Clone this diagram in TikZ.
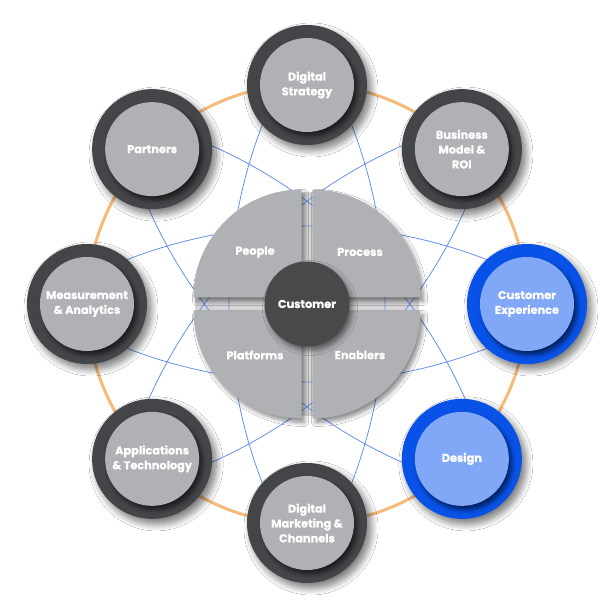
\documentclass[tikz,border=0pt]{standalone}
\usepackage{fontspec}
\setmainfont{Poppins}[BoldFeatures={FakeBold=0.6}]
\usetikzlibrary{shadows.blur}
\definecolor{ringdark}{RGB}{68,69,72}
\definecolor{nodegray}{RGB}{176,177,181}
\definecolor{bluering}{RGB}{8,82,232}
\definecolor{blueinner}{RGB}{128,168,246}
\definecolor{ringorange}{RGB}{246,186,122}
\definecolor{disclight}{RGB}{214,214,216}
\definecolor{centerdark}{RGB}{73,73,76}
\definecolor{arcblue}{RGB}{95,140,235}
\begin{document}
\begin{tikzpicture}[x=1pt,y=1pt,
  lbl/.style={text=white, font=\bfseries\fontsize{11.3}{14.8}\selectfont, align=center, inner sep=0pt},
  ringnode/.style={circle, minimum size=120pt, inner sep=0pt, fill=ringdark,
    blur shadow={shadow xshift=4pt, shadow yshift=-5pt, shadow blur radius=7pt, shadow blur steps=12, shadow opacity=55}},
  corenode/.style={circle, minimum size=94pt, inner sep=0pt, fill=nodegray,
    blur shadow={shadow xshift=3pt, shadow yshift=-4pt, shadow blur radius=4pt, shadow blur steps=8, shadow opacity=60}, lbl},
  bluenode/.style={ringnode, fill=bluering},
  bluecore/.style={corenode, fill=blueinner},
  quadfill/.style={fill=nodegray, blur shadow={shadow xshift=3pt, shadow yshift=-4pt, shadow blur radius=4pt, shadow blur steps=8, shadow opacity=45}},
  blueline/.style={draw=arcblue, line width=0.75pt}
]
\useasboundingbox (-307,-308) rectangle (305,304);
\fill[white] (-307,-308) rectangle (305,304);
% orange ring
\draw[ringorange, line width=3pt] (0,0) circle[radius=220pt];
% light disc under the quadrants
\fill[disclight] (0,0) circle[radius=112pt];
% blue arcs
\foreach \p in {0,45,...,315}{
  \draw[blueline] (\p+180:420) ++(\p-26.2:498) arc[start angle=\p-26.2, delta angle=52.4, radius=498pt];
}
% quadrants
\fill[quadfill] (-5.5,6.5) -- (-113.5,6.5) arc[start angle=180, end angle=90, radius=108pt] -- cycle;
\fill[quadfill] (5.5,6.5) -- (113.5,6.5) arc[start angle=0, end angle=90, radius=108pt] -- cycle;
\fill[quadfill] (-5.5,-6.5) -- (-113.5,-6.5) arc[start angle=180, end angle=270, radius=108pt] -- cycle;
\fill[quadfill] (5.5,-6.5) -- (113.5,-6.5) arc[start angle=0, end angle=-90, radius=108pt] -- cycle;
\node[lbl] (people) at (-52,52) {People};
\node[lbl] (process) at (53,52) {Process};
\node[lbl] (platforms) at (-52,-51) {Platforms};
\node[lbl] (enablers) at (53,-51) {Enablers};
% center
\node[circle, minimum size=85pt, inner sep=0pt, fill=centerdark,
  blur shadow={shadow xshift=3pt, shadow yshift=-4pt, shadow blur radius=5pt, shadow opacity=50}, lbl] (cust) at (0,0) {Customer};
% outer nodes
\node[ringnode] (ds-ring) at (90:219) {};
\node[corenode] (ds) at (ds-ring) {Digital\\Strategy};
\node[ringnode] (bm-ring) at (45:219) {};
\node[corenode] (bm) at (bm-ring) {Business\\Model \&\\ROI};
\node[bluenode] (cx-ring) at (0:220) {};
\node[bluecore] (cx) at (cx-ring) {Customer\\Experience};
\node[bluenode] (de-ring) at (-45:219) {};
\node[bluecore] (de) at (de-ring) {Design};
\node[ringnode] (dmc-ring) at (-90:219) {};
\node[corenode] (dmc) at (dmc-ring) {Digital\\Marketing \&\\Channels};
\node[ringnode] (apps-ring) at (-135:219) {};
\node[corenode] (apps) at (apps-ring) {Applications\\\& Technology};
\node[ringnode] (ma-ring) at (180:220) {};
\node[corenode] (ma) at (ma-ring) {Measurement\\\& Analytics};
\node[ringnode] (pa-ring) at (135:219) {};
\node[corenode] (pa) at (pa-ring) {Partners};
\end{tikzpicture}
\end{document}
